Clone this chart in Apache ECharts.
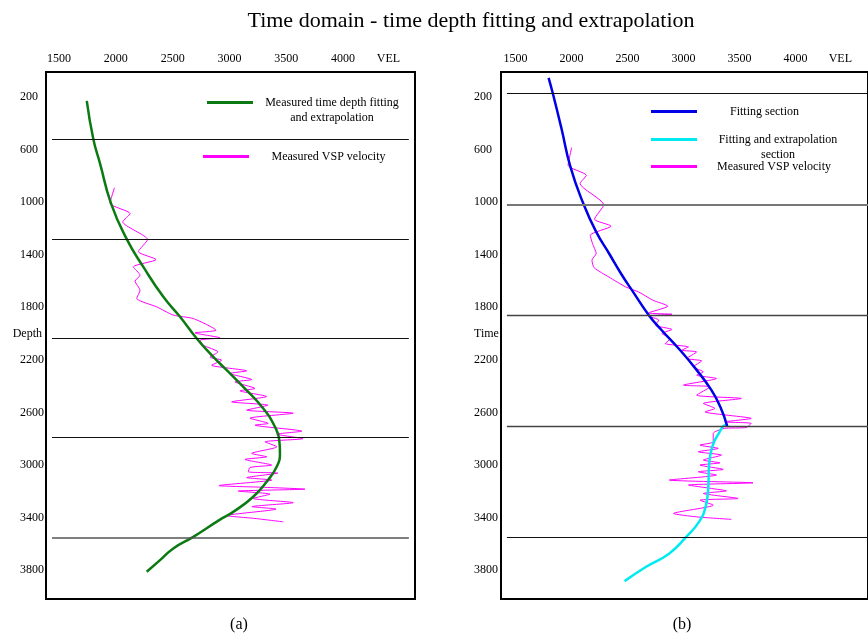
<!DOCTYPE html>
<html>
<head>
<meta charset="utf-8">
<title>Time domain - time depth fitting and extrapolation</title>
<script src="https://cdn.jsdelivr.net/npm/echarts@6/dist/echarts.min.js"></script>
<style>
    html, body { margin: 0; padding: 0; background: #fff; }
    #chart { width: 868px; height: 637px; }
</style>
</head>
<body>
<div id="chart"></div>
<script>
// velocity ticks (VEL drawn at 4400) and depth/time ticks (axis name drawn at 2000)
const velTicks = [1500, 2000, 2500, 3000, 3500, 4000, 4400];
const depthTicks = [200, 600, 1000, 1400, 1800, 2000, 2200, 2600, 3000, 3400, 3800];

// formation boundaries
const boundsA = [522, 1282, 2038, 2791, 3551];
const boundsB = [170, 1018, 1860, 2702, 3549];

// (a) fitted + extrapolated curve, [velocity, depth]
const fitA = [[1744, 230], [1802, 522], [1861, 707], [1958, 1011], [2096, 1282], [2242, 1493],
    [2418, 1721], [2565, 1873], [2712, 2038], [2858, 2178], [2976, 2279], [3122, 2406],
    [3298, 2570], [3401, 2710], [3439, 2811], [3445, 2912], [3416, 3014], [3328, 3128],
    [3210, 3242], [3034, 3357], [2910, 3420], [2682, 3547], [2506, 3635], [2389, 3724], [2272, 3813]];

// (a) measured VSP velocity
const vspA = [[1988, 891], [1949, 1009], [2125, 1087], [2061, 1151], [2279, 1285], [2198, 1377],
    [2354, 1437], [2154, 1493], [2213, 1556], [2169, 1602], [2213, 1670], [2184, 1733],
    [2360, 1797], [2506, 1860], [2682, 1886], [2882, 1975], [2697, 1995], [2917, 2033],
    [2741, 2051], [2770, 2089], [2899, 2140], [2829, 2180], [2932, 2203], [2844, 2241],
    [3152, 2284], [3005, 2304], [3196, 2350], [3049, 2368], [3225, 2418], [3093, 2436],
    [3328, 2479], [3020, 2520], [3339, 2545], [3152, 2583], [3562, 2606], [3181, 2644],
    [3342, 2684], [3225, 2697], [3638, 2743], [3416, 2766], [3647, 2800], [3313, 2824],
    [3418, 2862], [3196, 2912], [3328, 2938], [3137, 2958], [3372, 3001], [3181, 3019],
    [3166, 3052], [3427, 3062], [3152, 3096], [3374, 3115], [2908, 3157], [3269, 3169],
    [3665, 3184], [3078, 3199], [3357, 3222], [3210, 3255], [3562, 3287], [3198, 3317],
    [3410, 3336], [2976, 3385], [3225, 3407], [3474, 3433]];

// (b) fitting section and extrapolated section
const fitB = [[1795, 55], [1833, 174], [1910, 440], [1990, 732], [2105, 1011], [2220, 1227],
    [2335, 1391], [2441, 1543], [2539, 1670], [2690, 1860], [2805, 1975], [2956, 2114],
    [3107, 2267], [3249, 2431], [3328, 2558], [3390, 2705]];
const extB = [[3390, 2705], [3374, 2697], [3315, 2760], [3256, 2862], [3227, 3014], [3221, 3166],
    [3197, 3318], [3138, 3433], [3020, 3551], [2873, 3673], [2666, 3775], [2474, 3884]];

// (b) measured VSP velocity
const vspB = [[2001, 585], [1969, 720], [2132, 796], [2076, 859], [2287, 1020], [2205, 1130],
    [2353, 1183], [2167, 1252], [2187, 1315], [2220, 1391], [2182, 1442], [2202, 1499],
    [2335, 1571], [2483, 1645], [2601, 1685], [2725, 1746], [2860, 1792], [2689, 1843],
    [2896, 1853], [2689, 1868], [2778, 1898], [2749, 1937], [2896, 1969], [2807, 2000],
    [2882, 2038], [2837, 2076], [3044, 2102], [2984, 2127], [3117, 2140], [3029, 2190],
    [3162, 2208], [3088, 2254], [3177, 2292], [3117, 2317], [3294, 2342], [2999, 2393],
    [3236, 2406], [3117, 2469], [3516, 2494], [3177, 2532], [3280, 2570], [3192, 2596],
    [3604, 2646], [3369, 2672], [3604, 2684], [3560, 2715], [3363, 2722], [3265, 2760],
    [3265, 2824], [3147, 2849], [3310, 2874], [3132, 2900], [3339, 2925], [3177, 2963],
    [3325, 2984], [3147, 3001], [3354, 3034], [3132, 3052], [3294, 3077], [2873, 3115],
    [3620, 3136], [3044, 3153], [3250, 3179], [3383, 3197], [3177, 3217], [3487, 3255],
    [3147, 3268], [3265, 3306], [2911, 3369], [3117, 3395], [3427, 3414]];

const FONT = "'Liberation Serif', 'DejaVu Serif', serif";

const myChart = echarts.init(document.getElementById('chart'));

const xAxisOf = (grid, min, max) => ({
    type: 'value',
    gridIndex: grid,
    position: 'top',
    min: min,
    max: max,
    axisLine: { show: false },
    axisTick: { show: false },
    splitLine: { show: false },
    axisLabel: {
        customValues: velTicks,
        margin: 7,
        fontFamily: FONT,
        fontSize: 12,
        color: '#000',
        formatter: v => (v === 4400 ? 'VEL' : String(v))
    }
});

// left panel: labels end near the frame, short ones set a little further in
const yAxisA = {
    type: 'value',
    gridIndex: 0,
    inverse: true,
    min: 10,
    max: 4020,
    axisLine: { show: false },
    axisTick: { show: false },
    splitLine: { show: false },
    axisLabel: {
        customValues: depthTicks,
        margin: 2,
        align: 'right',
        fontFamily: FONT,
        fontSize: 12,
        color: '#000',
        formatter: v => {
            if (v === 2000) return '{d|Depth}';
            return v < 1000 ? '{s|' + v + '}' : '{n|' + v + '}';
        },
        rich: {
            d: { fontFamily: FONT, fontSize: 12, color: '#000', padding: [0, 2, 0, 0] },
            s: { fontFamily: FONT, fontSize: 12, color: '#000', padding: [0, 6, 0, 0] },
            n: { fontFamily: FONT, fontSize: 12, color: '#000' }
        }
    }
};

// right panel: labels start at a common left edge
const yAxisB = {
    type: 'value',
    gridIndex: 1,
    inverse: true,
    min: 10,
    max: 4020,
    axisLine: { show: false },
    axisTick: { show: false },
    splitLine: { show: false },
    axisLabel: {
        customValues: depthTicks,
        margin: 27,
        align: 'left',
        fontFamily: FONT,
        fontSize: 12,
        color: '#000',
        formatter: v => (v === 2000 ? 'Time' : String(v))
    }
};

// boundary lines drawn between two velocities, one style per line
const boundaryLines = (vals, x1, x2, styles) => ({
    silent: true,
    symbol: 'none',
    label: { show: false },
    lineStyle: { color: '#111', width: 1, type: 'solid' },
    data: vals.map((v, i) => [
        { coord: [x1, v], lineStyle: styles[i] || {} },
        { coord: [x2, v] }
    ])
});

const legendOf = (name, left, top, width, twoLines) => ({
    data: [name],
    left: left,
    top: top,
    padding: 0,
    icon: 'rect',
    itemWidth: 46,
    itemHeight: 3,
    selectedMode: false,
    formatter: n => {
        const lines = twoLines ? twoLines : [n];
        return lines.map(l => '{c|' + l + '}').join('\n');
    },
    textStyle: {
        width: width,
        padding: twoLines ? [15, 0, 0, 0] : 0,
        rich: {
            c: { align: 'center', fontFamily: FONT, fontSize: 12, lineHeight: 15, color: '#000' }
        }
    }
});

const option = {
    animation: false,
    backgroundColor: '#fff',
    title: [
        {
            text: 'Time domain - time depth fitting and extrapolation',
            left: 471, top: 10, textAlign: 'center', padding: 0,
            textStyle: { fontFamily: FONT, fontSize: 22, fontWeight: 'normal', color: '#000' }
        },
        {
            text: '(a)', left: 239, top: 617, textAlign: 'center', padding: 0,
            textStyle: { fontFamily: FONT, fontSize: 16, fontWeight: 'normal', color: '#000' }
        },
        {
            text: '(b)', left: 682, top: 617, textAlign: 'center', padding: 0,
            textStyle: { fontFamily: FONT, fontSize: 16, fontWeight: 'normal', color: '#000' }
        }
    ],
    legend: [
        legendOf('Measured time depth fitting and extrapolation', 207, 96.5, 148,
            ['Measured time depth fitting', 'and extrapolation']),
        legendOf('Measured VSP velocity', 203, 150.5, 149),
        legendOf('Fitting section', 651, 105.5, 125),
        legendOf('Fitting and extrapolation section', 651, 133.5, 152,
            ['Fitting and extrapolation', 'section']),
        legendOf('Measured VSP velocity', 651, 160.5, 144)
    ],
    grid: [
        { left: 46, top: 72, width: 369, height: 527, show: true, borderColor: '#000', borderWidth: 2 },
        { left: 501, top: 72, width: 370, height: 527, show: true, borderColor: '#000', borderWidth: 2 }
    ],
    xAxis: [xAxisOf(0, 1385, 4634), xAxisOf(1, 1370, 4647)],
    yAxis: [yAxisA, yAxisB],
    series: [
        {
            name: 'Measured VSP velocity',
            type: 'line',
            xAxisIndex: 0, yAxisIndex: 0,
            data: vspA,
            showSymbol: false,
            smooth: 0.2,
            color: '#ff00ff',
            lineStyle: { width: 1, color: '#ff00ff' },
            markLine: boundaryLines(boundsA, 1438, 4580,
                [{}, {}, {}, {}, { color: '#555', width: 1.5 }])
        },
        {
            name: 'Measured time depth fitting and extrapolation',
            type: 'line',
            xAxisIndex: 0, yAxisIndex: 0,
            data: fitA,
            showSymbol: false,
            smooth: true,
            color: '#0c7a12',
            lineStyle: { width: 2.5, color: '#0c7a12' }
        },
        {
            name: 'Measured VSP velocity',
            type: 'line',
            xAxisIndex: 1, yAxisIndex: 1,
            data: vspB,
            showSymbol: false,
            smooth: 0.2,
            color: '#ff00ff',
            lineStyle: { width: 1, color: '#ff00ff' },
            markLine: boundaryLines(boundsB, 1423, 4647,
                [{}, { color: '#777', width: 2 }, { color: '#444', width: 1.3 }, { color: '#444', width: 1.3 }, {}])
        },
        {
            name: 'Fitting and extrapolation section',
            type: 'line',
            xAxisIndex: 1, yAxisIndex: 1,
            data: extB,
            showSymbol: false,
            smooth: true,
            color: '#00eaf2',
            lineStyle: { width: 2.5, color: '#00eaf2' }
        },
        {
            name: 'Fitting section',
            type: 'line',
            xAxisIndex: 1, yAxisIndex: 1,
            data: fitB,
            showSymbol: false,
            smooth: true,
            color: '#0000e6',
            lineStyle: { width: 2.5, color: '#0000e6' }
        }
    ]
};

myChart.setOption(option);

window.addEventListener('resize', function () {
    myChart.resize();
});
</script>
</body>
</html>
